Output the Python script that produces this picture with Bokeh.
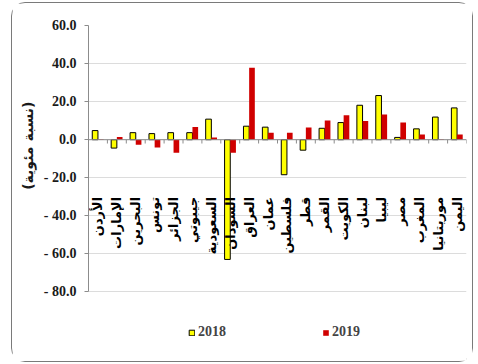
import math

from bokeh.core.properties import value
from bokeh.embed import file_html
from bokeh.models import (ColumnDataSource, FixedTicker, Legend, LegendItem,
                          Range1d, Span, Title)
from bokeh.plotting import figure
from bokeh.resources import INLINE

# Arab countries, growth rates (percent)
countries = ["الأردن", "الإمارات", "البحرين", "تونس", "الجزائر", "جيبوتي",
             "السعودية", "السودان", "العراق", "عمان", "فلسطين", "قطر",
             "القمر", "الكويت", "لبنان", "ليبيا", "مصر", "المغرب",
             "موريتانيا", "اليمن"]
values_2018 = [4.8, -4.4, 3.7, 3.2, 3.7, 3.7, 10.8, -62.9, 7.1, 6.6, -18.4,
               -5.5, 6.0, 9.0, 18.1, 23.2, 1.2, 5.7, 11.9, 16.7]
values_2019 = [0.3, 1.4, -2.7, -4.1, -6.9, 6.7, 1.2, -6.9, 37.8, 3.7, 3.7,
               6.4, 10.1, 12.9, 9.8, 13.3, 9.0, 2.7, 0.2, 2.7]
y_ticks = [-80, -60, -40, -20, 0, 20, 40, 60]
series_names = ["2018", "2019"]
y_title = "(نسبة مئوية)"

YELLOW = "#ffff00"
RED = "#d00000"
AXIS_GRAY = "#8c8c8c"
SERIF = "Liberation Serif"
ARABIC = "DejaVu Sans"

idx = list(range(len(countries)))
src = ColumnDataSource(dict(
    i=idx,
    x18=[i - 0.15 for i in idx],
    x19=[i + 0.15 for i in idx],
    v18=values_2018,
    v19=values_2019,
    name=countries,
))

p = figure(width=462, height=360, output_backend="svg", toolbar_location=None,
           x_range=Range1d(-0.5, len(countries) - 0.5),
           y_range=Range1d(-116, 60),
           min_border_left=74, min_border_right=8,
           min_border_top=22, min_border_bottom=3)
p.styles = {"border": "1.5px solid #7a7a7a", "border-radius": "14px",
            "margin-left": "11px", "margin-top": "2px"}
p.outline_line_color = None
p.background_fill_color = "white"
p.border_fill_color = "white"

# axes
p.xaxis.visible = False
p.xgrid.visible = False
p.yaxis.ticker = FixedTicker(ticks=y_ticks)
p.yaxis.bounds = (min(y_ticks), max(y_ticks))
p.yaxis.major_label_overrides = {
    t: (f"- {abs(t):.1f}" if t < 0 else f"{t:.1f}") for t in y_ticks}
p.yaxis.major_label_text_font = SERIF
p.yaxis.major_label_text_font_style = "bold"
p.yaxis.major_label_text_font_size = "14px"
p.yaxis.major_label_text_color = "#1a1a1a"
p.yaxis.major_label_standoff = 8
p.yaxis.axis_line_color = AXIS_GRAY
p.yaxis.major_tick_line_color = AXIS_GRAY
p.yaxis.major_tick_in = 0
p.yaxis.major_tick_out = 4
p.yaxis.minor_tick_line_color = None
p.ygrid.grid_line_color = "#dcdcdc"
p.ygrid.grid_line_width = 1

# y-axis title, placed toward the upper end of the side panel
p.add_layout(Title(text=y_title, align="right", offset=76,
                   text_font=ARABIC, text_font_style="bold",
                   text_font_size="14px", text_color="#1a1a1a"), "left")

# zero line with category separators
p.add_layout(Span(location=0, dimension="width", line_color=AXIS_GRAY,
                  line_width=1))
sep = [i - 0.5 for i in range(len(countries) + 1)]
p.segment(x0=sep, x1=sep, y0=[0] * len(sep), y1=[-2] * len(sep),
          line_color=AXIS_GRAY, line_width=1)

r18 = p.vbar(x="x18", top="v18", bottom=0, width=0.3, source=src,
             fill_color=YELLOW, line_color="black", line_width=1)
r19 = p.vbar(x="x19", top="v19", bottom=0, width=0.3, source=src,
             fill_color=RED, line_color=None)

# vertical country names
p.text(x="i", y=-30, text="name", source=src, angle=math.pi / 2,
       text_align="right", text_baseline="middle",
       text_font=value(ARABIC), text_font_style="bold",
       text_font_size="13px", text_color="black")

legend = Legend(items=[LegendItem(label=series_names[0], renderers=[r18]),
                       LegendItem(label=series_names[1], renderers=[r19])],
                orientation="horizontal", location=(100, 20),
                glyph_width=7, glyph_height=7, label_standoff=3,
                spacing=96, padding=0, margin=0,
                label_text_font=SERIF, label_text_font_style="bold",
                label_text_font_size="14px", label_height=14,
                border_line_color=None, background_fill_alpha=0)
p.add_layout(legend, "center")

open("out.html", "w").write(file_html(p, INLINE))
